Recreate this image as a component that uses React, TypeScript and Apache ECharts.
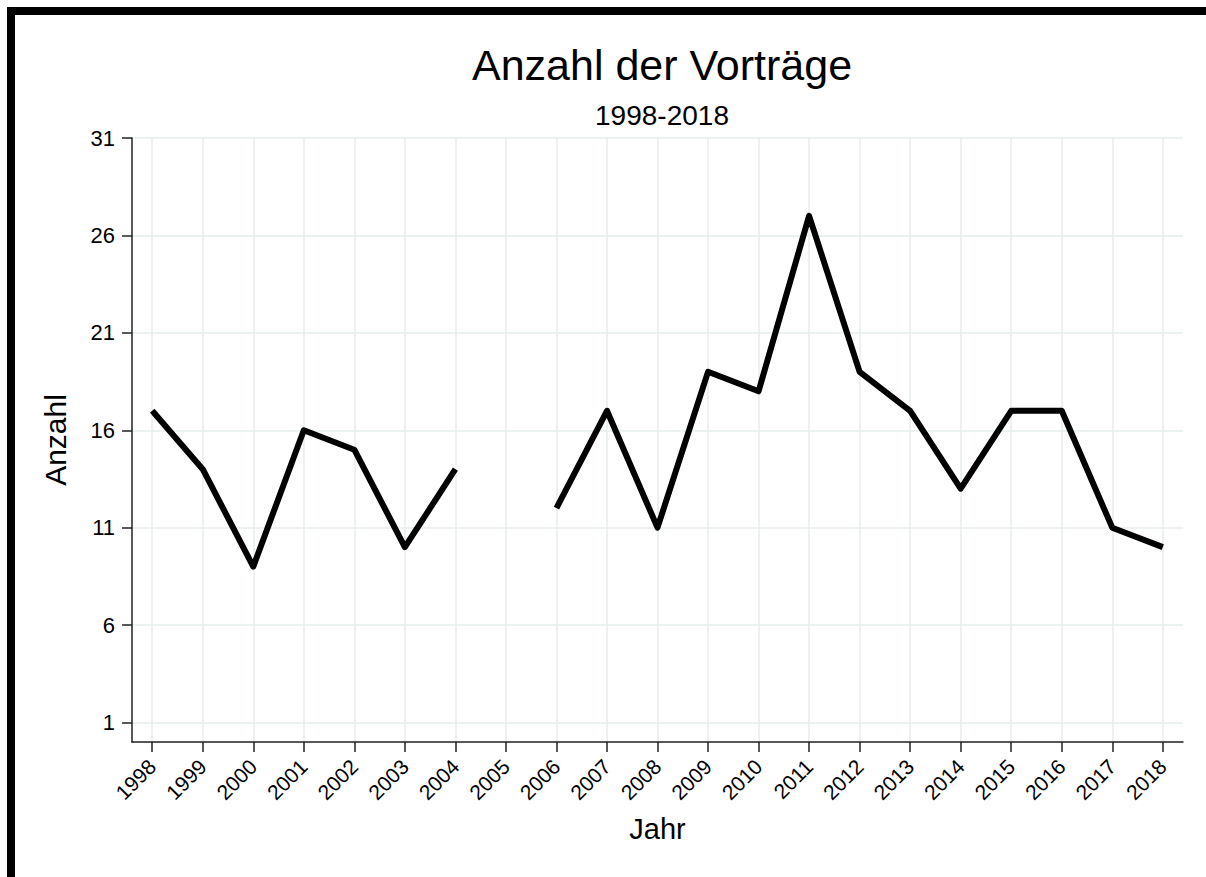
import React, { useEffect, useRef } from "react";
import * as echarts from "echarts";

const years = [1998, 1999, 2000, 2001, 2002, 2003, 2004, 2005, 2006, 2007, 2008, 2009, 2010, 2011, 2012, 2013, 2014, 2015, 2016, 2017, 2018];
const counts: (number | null)[] = [17, 14, 9, 16, 15, 10, 14, null, 12, 17, 11, 19, 18, 27, 19, 17, 13, 17, 17, 11, 10];
const yTicks = [1, 6, 11, 16, 21, 26, 31];

const FONT = "'Liberation Sans', Arial, sans-serif";

export default function App() {
  const ref = useRef<HTMLDivElement>(null);
  useEffect(() => {
    if (!ref.current) return;
    const chart = echarts.init(ref.current, null, { renderer: "svg" });
    const data = years.map((y, i) => [y, counts[i] === null ? "-" : counts[i]]);
    chart.setOption({
      animation: false,
      backgroundColor: "#ffffff",
      textStyle: { fontFamily: FONT },
      title: [
        {
          text: "Anzahl der Vorträge",
          left: 657,
          top: 38,
          textAlign: "center",
          textStyle: { fontSize: 43, fontWeight: "normal", color: "#000", fontFamily: FONT },
        },
        {
          text: "1998-2018",
          left: 657,
          top: 96,
          textAlign: "center",
          textStyle: { fontSize: 28, fontWeight: "normal", color: "#000", fontFamily: FONT },
        },
      ],
      graphic: [
        { type: "rect", shape: { x: 7, y: 7, width: 1199, height: 8 }, style: { fill: "#000" } },
        { type: "rect", shape: { x: 7, y: 7, width: 8, height: 870 }, style: { fill: "#000" } },
      ],
      grid: { left: 132, top: 138, right: 23, bottom: 135, containLabel: false },
      xAxis: {
        type: "value",
        min: 1997.6,
        max: 2018.4,
        name: "Jahr",
        nameLocation: "middle",
        nameGap: 72,
        nameMoveOverlap: false,
        nameTextStyle: { fontSize: 29, color: "#000", fontFamily: FONT },
        axisLine: { show: true, onZero: false, lineStyle: { color: "#222", width: 1.5 } },
        axisTick: { show: true, inside: false, length: 10, customValues: years, lineStyle: { color: "#222", width: 1.5 } },
        axisLabel: {
          show: true,
          customValues: years,
          rotate: 45,
          margin: 21,
          fontSize: 21,
          color: "#000",
          fontFamily: FONT,
          formatter: (v: number) => String(v),
        },
        splitLine: { show: true, lineStyle: { color: "#e6eded", width: 1.5 } },
      },
      yAxis: {
        type: "value",
        min: 0,
        max: 31,
        name: "Anzahl",
        nameLocation: "middle",
        nameGap: 62,
        nameTextStyle: { fontSize: 30, color: "#000", fontFamily: FONT },
        axisLine: { show: true, onZero: false, lineStyle: { color: "#222", width: 1.5 } },
        axisTick: { show: true, inside: false, length: 10, customValues: yTicks, lineStyle: { color: "#222", width: 1.5 } },
        axisLabel: {
          show: true,
          customValues: yTicks,
          margin: 17,
          fontSize: 22,
          color: "#000",
          fontFamily: FONT,
        },
        splitLine: { show: true, lineStyle: { color: "#e6eded", width: 1.5 } },
      },
      series: [
        {
          type: "line",
          data,
          showSymbol: false,
          symbol: "none",
          connectNulls: false,
          lineStyle: { color: "#000", width: 6, join: "round", cap: "butt" },
        },
      ],
    });
    return () => chart.dispose();
  }, []);
  return (
    <div
      ref={ref}
      style={{ position: "fixed", left: 0, top: 0, width: 1206, height: 877, background: "#fff" }}
    />
  );
}
